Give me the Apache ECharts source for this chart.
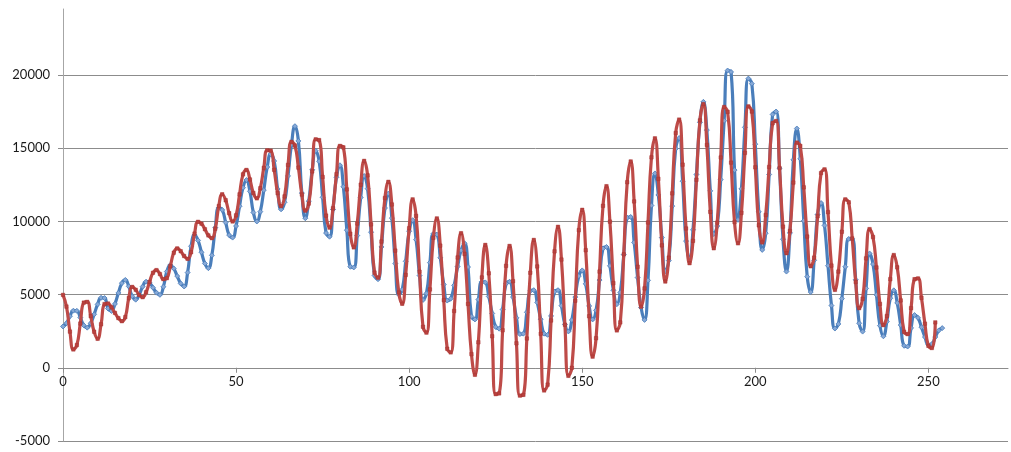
<!DOCTYPE html>
<html>
<head>
<meta charset="utf-8">
<script src="https://cdn.jsdelivr.net/npm/echarts@6/dist/echarts.min.js"></script>
<style>
html,body{margin:0;padding:0;background:#fff;}
#chart{width:1011px;height:452px;}
</style>
</head>
<body>
<div id="chart"></div>
<script>
// x values are the index (0, 1, 2, ...)
const xStart = 0;
const blueValues = [
2820,3040,3520,3900,3890,3430,2900,2740,3040,3650,4330,4780,4760,4050,3880,4360,5110,5780,6000,5560,
4880,4650,4990,5540,5880,5800,5470,5130,4980,5530,6570,7020,6780,6260,5760,5550,6500,8300,9070,8700,
7890,7120,6800,7680,9570,10920,10780,9920,9060,8890,9680,11030,12300,12820,12050,10600,9990,10660,12130,13710,
14590,14120,12210,10820,11300,13100,15240,16500,15490,11930,10210,11380,13520,14820,14100,11640,9200,8950,10810,13010,
13830,12360,9400,6900,6850,9030,11630,13100,12230,9260,6300,6050,8250,10910,11900,10220,7120,5000,5330,7270,
9330,10080,8750,6300,4630,5080,7180,9150,9100,7510,5690,4590,4720,5630,6910,8020,8500,6880,3500,3300,
4660,5870,5830,4870,3710,2790,2670,3980,5750,5880,4830,3410,2300,2330,3790,5250,5300,4460,3320,2330,
2250,3540,5200,5300,4240,2960,2480,3260,4830,6260,6650,5730,4220,3300,3920,5990,8150,8250,6960,5290,
4340,5140,7730,10250,10300,8560,6160,4120,3270,5970,11080,13270,11800,8890,6600,7320,11040,14960,15690,12740,
8650,7430,9420,13200,16760,18160,16230,12080,9130,9680,12850,16870,20300,20200,13500,10100,12220,16420,19750,19400,
15270,10650,8050,9190,13200,17300,17500,13630,8780,6570,9210,14200,16340,14270,10040,6220,5170,7340,10470,11250,
9720,6970,4250,2680,2990,4720,6900,8800,8800,6010,3040,2470,5420,7810,7080,4980,2880,2150,3160,4750,
5290,4430,2920,1500,1450,2720,3600,3410,2770,2100,1570,1620,2100,2550,2710
];
const redValues = [
4980,4180,2470,1250,1550,3020,4450,4500,3530,2460,1980,2970,4350,4390,4130,3750,3390,3180,3460,4760,
5520,5330,4970,4820,5160,5860,6490,6670,6400,6050,6120,6930,7860,8150,7960,7630,7440,7890,9160,9970,
9840,9460,9040,8850,9500,11040,11850,11440,10560,9990,10410,11840,13210,13510,12860,11930,11570,12260,13650,14850,
14830,13520,11930,11040,11700,13850,15430,15180,13670,11830,10730,11210,13410,15600,15550,13030,10390,9570,10890,13220,
15150,15050,12180,9150,8220,9850,12500,14130,13140,9790,6500,6150,8620,11590,12700,11150,8000,5140,4370,6340,
9530,11500,10370,6560,2800,2400,5350,8880,10200,8340,4620,1300,1050,3880,7530,9190,7780,4360,930,-480,
1740,6170,8390,6450,2150,-1800,-1750,2560,6960,8320,5910,1670,-1900,-1850,2000,6490,8730,6920,2320,-1550,
-1150,3230,7950,9630,7390,2940,-550,0,4580,9400,10790,8030,3520,760,2020,6570,11060,12400,9980,5780,
2550,3100,7750,12670,14090,11360,6900,4170,5420,9920,14370,15670,12900,8360,5890,7520,11910,16030,16950,13870,
9510,7140,8670,12840,16890,18000,15220,10650,8160,9910,14360,17810,17480,14010,9950,8500,10580,14680,17850,17500,
13690,9730,8560,10430,13710,16700,16850,13640,9640,7820,9340,12650,15380,15150,12320,8960,6930,7520,10350,13300,
13550,10630,6980,5320,6570,9290,11500,11300,8830,5860,4070,4710,7470,9470,8930,6850,4360,2910,3530,6050,
7700,6860,4600,2450,2300,4070,6050,6100,4780,3010,1500,1350,3100
];
const xTicks = [0, 50, 100, 150, 200, 250];
const yTicks = [-5000, 0, 5000, 10000, 15000, 20000];

const toPairs = vals => vals.map((v, i) => [xStart + i, v]);

const yMin = -5000, yMax = 24500;
const gridTop = 9, gridBottom = 11, chartH = 452;
const plotH = chartH - gridTop - gridBottom;
const zeroOffset = -plotH * (0 - yMin) / (yMax - yMin);

const chart = echarts.init(document.getElementById('chart'), null, {renderer: 'canvas'});
const labelFont = {fontFamily: 'Lato, "Open Sans", sans-serif', fontSize: 13, color: '#1a1a1a'};
chart.setOption({
  animation: false,
  backgroundColor: '#ffffff',
  grid: {left: 63, right: 3, top: gridTop, bottom: gridBottom, containLabel: false, outerBoundsMode: 'none'},
  xAxis: {
    type: 'value',
    position: 'bottom',
    offset: zeroOffset,
    min: 0, max: 273, interval: 50,
    axisLine: {show: true, onZero: false, lineStyle: {color: '#8c8c8c', width: 1}},
    axisTick: {show: true, inside: false, length: 5, lineStyle: {color: '#8c8c8c'}},
    axisLabel: Object.assign({margin: 8, showMaxLabel: false,
      formatter: v => (xTicks.indexOf(v) >= 0 ? String(v) : '')}, labelFont),
    splitLine: {show: false}
  },
  yAxis: {
    type: 'value',
    min: yMin, max: yMax, interval: 5000,
    axisLine: {show: true, onZero: false, lineStyle: {color: '#a6a6a6', width: 1}},
    axisTick: {show: true, inside: false, length: 5, lineStyle: {color: '#8c8c8c'}},
    axisLabel: Object.assign({margin: 13, showMaxLabel: false,
      formatter: v => (yTicks.indexOf(v) >= 0 ? String(v) : '')}, labelFont),
    splitLine: {show: true, showMaxLine: false, lineStyle: {color: '#8c8c8c', width: 1}}
  },
  series: [
    {
      name: 'Series1', type: 'line', smooth: 0.5,
      data: toPairs(blueValues),
      symbol: 'diamond', symbolSize: 5, showSymbol: true,
      lineStyle: {color: '#4a7ebb', width: 3.2},
      itemStyle: {color: '#86a8d6', borderColor: '#4a7ebb', borderWidth: 0.8},
      z: 2
    },
    {
      name: 'Series2', type: 'line', smooth: 0.5,
      data: toPairs(redValues),
      symbol: 'rect', symbolSize: 3.5, showSymbol: true,
      lineStyle: {color: '#be4b48', width: 3.2},
      itemStyle: {color: '#b8413e', borderColor: '#a5302d', borderWidth: 0.4},
      z: 3
    }
  ]
});
</script>
</body>
</html>
